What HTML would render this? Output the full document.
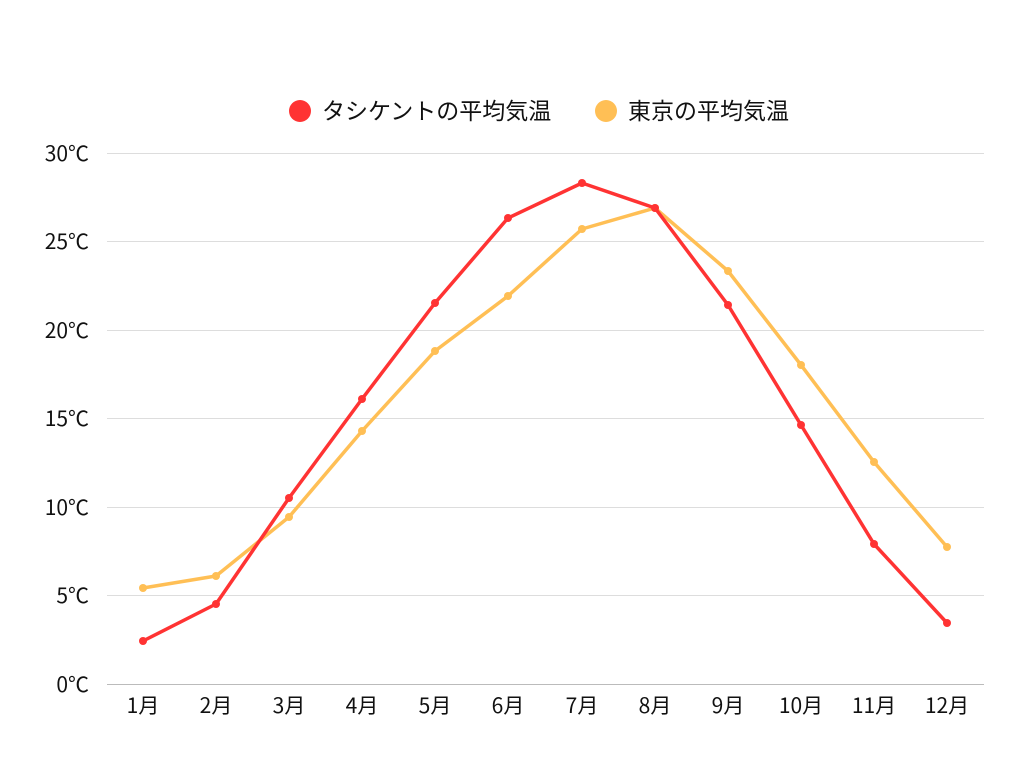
<!DOCTYPE html>
<html><head><meta charset="utf-8"><style>
body{margin:0;background:#fff;}
text{font-family:"Noto Sans CJK JP","Liberation Sans",sans-serif;fill:#111;}
</style></head><body>
<svg width="1024" height="768" xmlns="http://www.w3.org/2000/svg">
<g stroke="#ddd" stroke-width="1">
<line x1="107" x2="984" y1="153.5" y2="153.5"/>
<line x1="107" x2="984" y1="241.5" y2="241.5"/>
<line x1="107" x2="984" y1="330.5" y2="330.5"/>
<line x1="107" x2="984" y1="418.5" y2="418.5"/>
<line x1="107" x2="984" y1="507.5" y2="507.5"/>
<line x1="107" x2="984" y1="595.5" y2="595.5"/>
</g>
<line x1="107" x2="984" y1="684.5" y2="684.5" stroke="#bbb"/>
<g font-size="21" text-anchor="end">
<text x="89" y="161">30℃</text><text x="89" y="249">25℃</text><text x="89" y="338">20℃</text>
<text x="89" y="426">15℃</text><text x="89" y="515">10℃</text><text x="89" y="603">5℃</text><text x="89" y="692">0℃</text>
</g>
<g font-size="21" text-anchor="middle">
<text x="143" y="713">1月</text><text x="216" y="713">2月</text><text x="289" y="713">3月</text><text x="362" y="713">4月</text>
<text x="435" y="713">5月</text><text x="508" y="713">6月</text><text x="582" y="713">7月</text><text x="655" y="713">8月</text>
<text x="728" y="713">9月</text><text x="801" y="713">10月</text><text x="874" y="713">11月</text><text x="947" y="713">12月</text>
</g>
<polyline fill="none" stroke="#ffbf55" stroke-width="3.5" stroke-linejoin="round" points="143,588 216,576 289,517 362,431 435,351 508,296 582,229 655,208 728,271 801,365 874,462 947,547"/>
<g fill="#ffbf55">
<circle cx="143" cy="588" r="4"/><circle cx="216" cy="576" r="4"/><circle cx="289" cy="517" r="4"/><circle cx="362" cy="431" r="4"/><circle cx="435" cy="351" r="4"/><circle cx="508" cy="296" r="4"/><circle cx="582" cy="229" r="4"/><circle cx="655" cy="208" r="4"/><circle cx="728" cy="271" r="4"/><circle cx="801" cy="365" r="4"/><circle cx="874" cy="462" r="4"/><circle cx="947" cy="547" r="4"/>
</g>
<polyline fill="none" stroke="#ff3333" stroke-width="3.5" stroke-linejoin="round" points="143,641 216,604 289,498 362,399 435,303 508,218 582,183 655,208 728,305 801,425 874,544 947,623"/>
<g fill="#ff3333">
<circle cx="143" cy="641" r="4"/><circle cx="216" cy="604" r="4"/><circle cx="289" cy="498" r="4"/><circle cx="362" cy="399" r="4"/><circle cx="435" cy="303" r="4"/><circle cx="508" cy="218" r="4"/><circle cx="582" cy="183" r="4"/><circle cx="655" cy="208" r="4"/><circle cx="728" cy="305" r="4"/><circle cx="801" cy="425" r="4"/><circle cx="874" cy="544" r="4"/><circle cx="947" cy="623" r="4"/>
</g>
<circle cx="300" cy="111" r="11" fill="#ff3333"/>
<text x="322" y="119" font-size="23">タシケントの平均気温</text>
<circle cx="606" cy="111" r="11" fill="#ffbf55"/>
<text x="628" y="119" font-size="23">東京の平均気温</text>
</svg>
</body></html>
